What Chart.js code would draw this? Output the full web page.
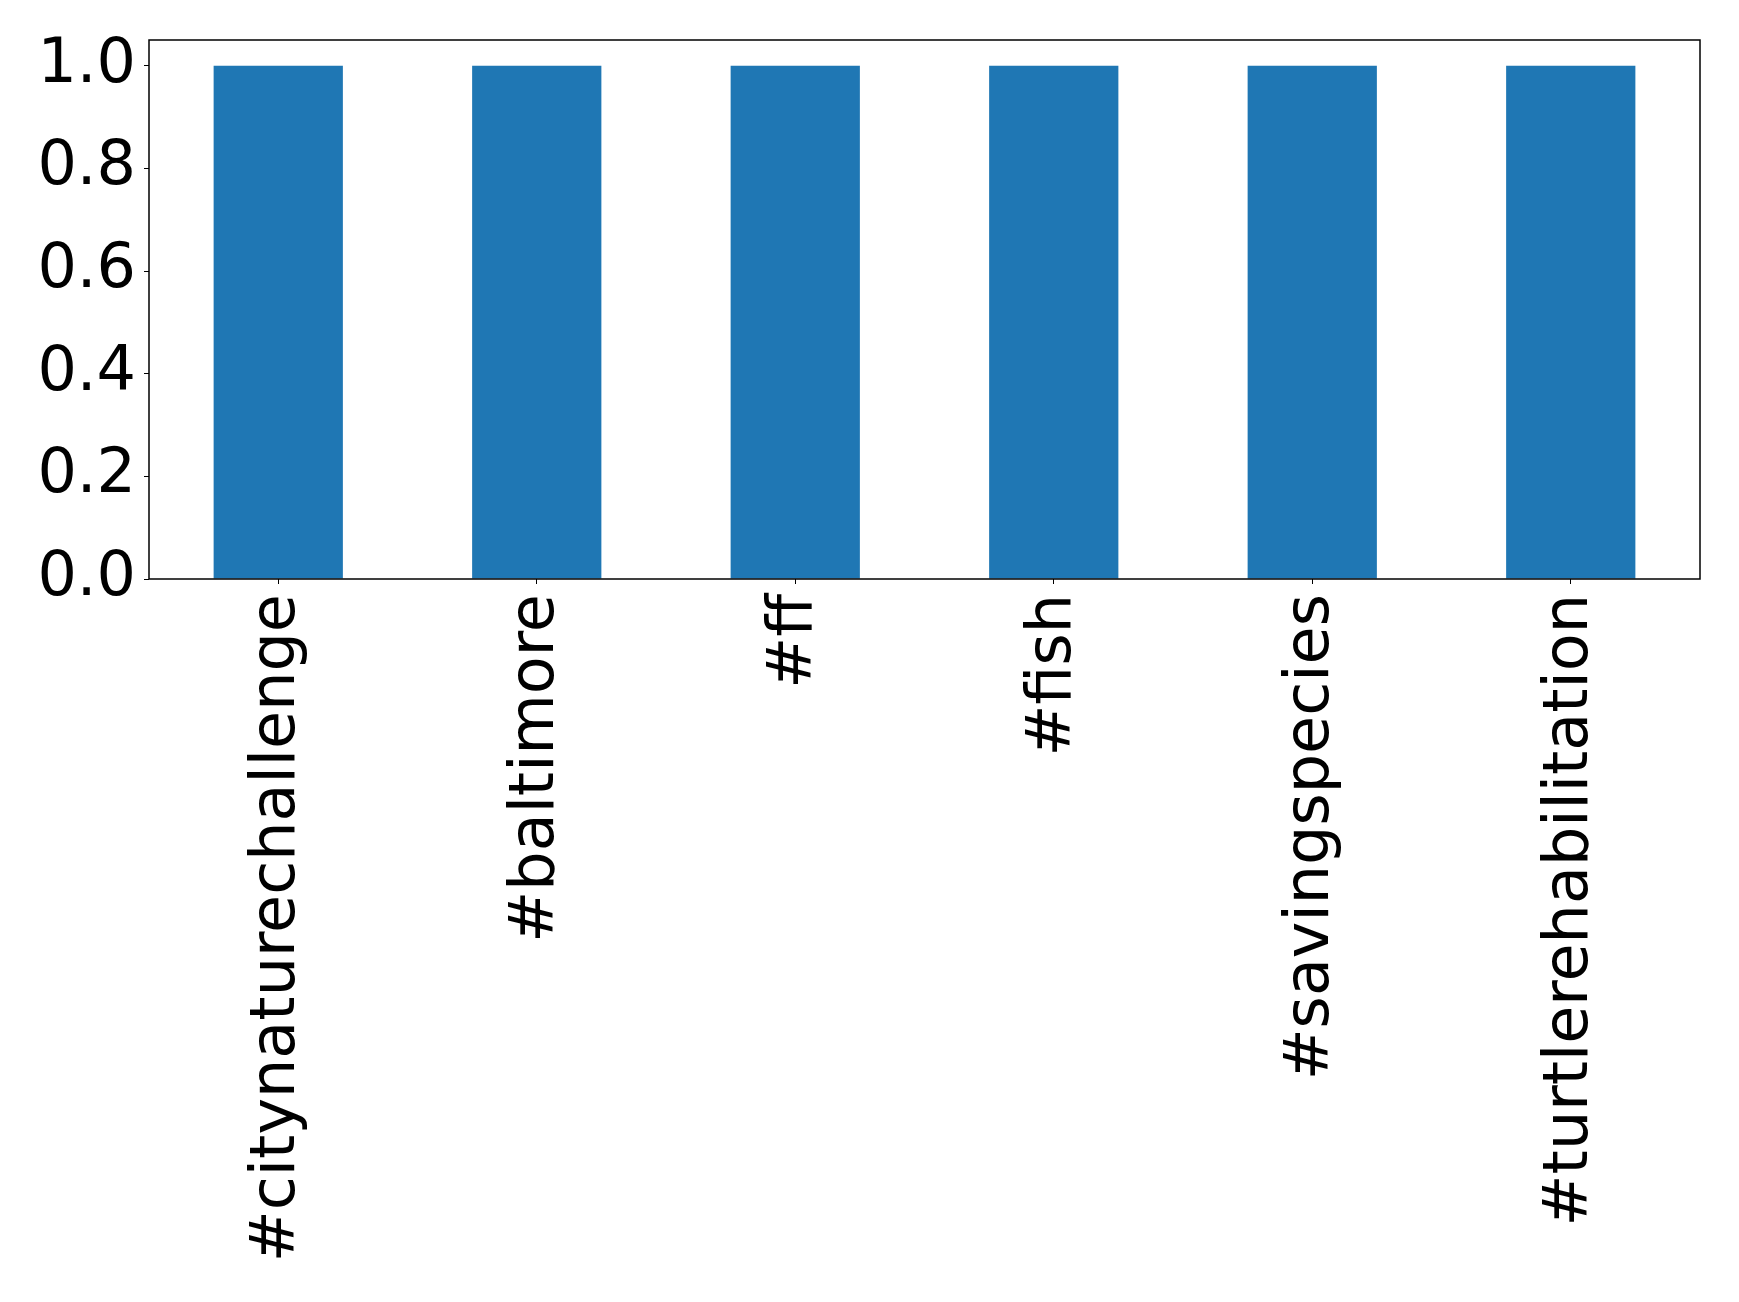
<!DOCTYPE html>
<html>
<head>
<meta charset="utf-8">
<script src="https://cdn.jsdelivr.net/npm/chart.js@4/dist/chart.umd.min.js"></script>
<style>
  html, body { margin: 0; padding: 0; background: #fff; }
  #wrap { width: 1739px; height: 1302px; }
</style>
</head>
<body>
<div id="wrap"><canvas id="hashtagChart" width="1739" height="1302"></canvas></div>
<script>
// data
const hashtags = ['#citynaturechallenge', '#baltimore', '#ff', '#fish', '#savingspecies', '#turtlerehabilitation'];
const counts = [1, 1, 1, 1, 1, 1];
const yTicks = [0, 0.2, 0.4, 0.6, 0.8, 1.0];

// box around the plot area (matplotlib style)
const frameBox = {
    id: 'frameBox',
    afterDraw: function(chart) {
        const a = chart.chartArea;
        const ctx = chart.ctx;
        ctx.save();
        ctx.strokeStyle = '#000';
        ctx.lineWidth = 1.5;
        ctx.strokeRect(a.left, a.top, a.right - a.left, a.bottom - a.top);
        ctx.restore();
    }
};

new Chart(document.getElementById('hashtagChart'), {
    type: 'bar',
    data: {
        labels: hashtags,
        datasets: [{
            data: counts,
            backgroundColor: '#1f77b4',
            borderWidth: 0,
            categoryPercentage: 1.0,
            barPercentage: 0.5
        }]
    },
    options: {
        responsive: false,
        animation: false,
        layout: { padding: { top: 40, right: 39, left: 0, bottom: 0 } },
        plugins: {
            legend: { display: false },
            tooltip: { enabled: false }
        },
        scales: {
            x: {
                grid: { display: true, offset: false, drawOnChartArea: false, drawTicks: true, tickLength: 5, color: '#000' },
                border: { display: false },
                ticks: {
                    color: '#000',
                    font: { family: 'DejaVu Sans', size: 62 },
                    minRotation: 90,
                    maxRotation: 90,
                    padding: 10
                },
                afterFit: (scale) => { scale.height = 723; scale.paddingLeft = 0; scale.paddingRight = 0; }
            },
            y: {
                min: 0,
                max: 1.05,
                grid: { display: true, drawOnChartArea: false, drawTicks: true, tickLength: 5, color: '#000' },
                border: { display: false },
                ticks: {
                    color: '#000',
                    font: { family: 'DejaVu Sans', size: 62 },
                    padding: 8,
                    callback: (v) => v.toFixed(1)
                },
                afterBuildTicks: (scale) => { scale.ticks = yTicks.map(v => ({ value: v })); },
                afterFit: (scale) => { scale.width = 149; scale.paddingTop = 0; scale.paddingBottom = 0; }
            }
        }
    },
    plugins: [frameBox]
});
</script>
</body>
</html>
